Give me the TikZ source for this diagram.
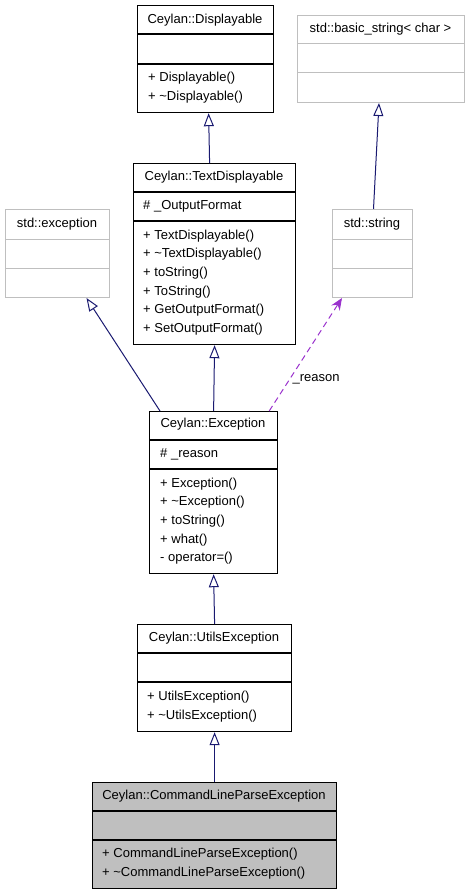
\documentclass[tikz,border=0pt]{standalone}
\usepackage{fontspec}
\setmainfont{Liberation Sans}
\usetikzlibrary{arrows.meta}
\definecolor{edgeblue}{HTML}{191970}
\definecolor{refpurple}{HTML}{9A32CD}
\definecolor{extgrey}{HTML}{BFBFBF}
\begin{document}
\begin{tikzpicture}[x=1pt,y=-1pt,
  box/.style={draw=black,line width=1.2pt,anchor=north west,inner sep=0pt},
  extbox/.style={draw=extgrey,line width=1pt,anchor=north west,inner sep=0pt},
  title/.style={font=\fontsize{13}{15}\selectfont,inner sep=0pt,text height=9.3pt,text depth=0pt},
  member/.style={title,anchor=west},
  inherit/.style={draw=edgeblue,line width=1pt,-{Triangle[open,length=13pt,width=10pt]}},
  uses/.style={draw=refpurple,line width=1pt,dash pattern=on 6pt off 4pt,-{Stealth[length=12pt,width=10pt,inset=4pt]}}]
\useasboundingbox (0,0) rectangle (468,893);
% Ceylan::Displayable
\node[box,minimum width=136pt,minimum height=107pt] (disp) at (137,5) {};
\draw[line width=1.2pt] (137,34) -- (273,34);
\draw[line width=1.2pt] (137,64) -- (273,64);
\node[title] (dispname) at (205,19) {Ceylan::Displayable};
\node[member] (disp1) at (148,77) {+ Displayable()};
\node[member] (disp2) at (148,96) {+ \textasciitilde Displayable()};
% std::basic_string< char >
\node[extbox,minimum width=167pt,minimum height=87pt] (bstr) at (297,15) {};
\draw[extgrey,line width=1pt] (297,44) -- (464,44);
\draw[extgrey,line width=1pt] (297,73) -- (464,73);
\node[title] (bstrname) at (380.5,28) {std::basic\_string< char >};
% Ceylan::TextDisplayable
\node[box,minimum width=162pt,minimum height=181pt] (tdisp) at (133,163) {};
\draw[line width=1.2pt] (133,192) -- (295,192);
\draw[line width=1.2pt] (133,221) -- (295,221);
\node[title] (tdispname) at (214,176) {Ceylan::TextDisplayable};
\node[member] (tdispa) at (143,205) {\# \_OutputFormat};
\node[member] (tdisp1) at (143,235) {+ TextDisplayable()};
\node[member] (tdisp2) at (143,253) {+ \textasciitilde TextDisplayable()};
\node[member] (tdisp3) at (143,272) {+ toString()};
\node[member] (tdisp4) at (143,291) {+ ToString()};
\node[member] (tdisp5) at (143,309) {+ GetOutputFormat()};
\node[member] (tdisp6) at (143,328) {+ SetOutputFormat()};
% std::exception
\node[extbox,minimum width=104pt,minimum height=88pt] (stdexc) at (5,209) {};
\draw[extgrey,line width=1pt] (5,239) -- (109,239);
\draw[extgrey,line width=1pt] (5,268) -- (109,268);
\node[title] (stdexcname) at (57,223) {std::exception};
% std::string
\node[extbox,minimum width=80pt,minimum height=88pt] (str) at (332,209) {};
\draw[extgrey,line width=1pt] (332,239) -- (412,239);
\draw[extgrey,line width=1pt] (332,268) -- (412,268);
\node[title] (strname) at (372,223) {std::string};
% Ceylan::Exception
\node[box,minimum width=128pt,minimum height=162pt] (exc) at (149,411) {};
\draw[line width=1.2pt] (149,440) -- (277,440);
\draw[line width=1.2pt] (149,469) -- (277,469);
\node[title] (excname) at (213,423) {Ceylan::Exception};
\node[member] (exca) at (160,453) {\# \_reason};
\node[member] (exc1) at (160,483) {+ Exception()};
\node[member] (exc2) at (160,501) {+ \textasciitilde Exception()};
\node[member] (exc3) at (160,520) {+ toString()};
\node[member] (exc4) at (160,539) {+ what()};
\node[member] (exc5) at (160,557) {- operator=()};
% Ceylan::UtilsException
\node[box,minimum width=154pt,minimum height=107pt] (utils) at (137,624) {};
\draw[line width=1.2pt] (137,653) -- (291,653);
\draw[line width=1.2pt] (137,682) -- (291,682);
\node[title] (utilsname) at (214,637) {Ceylan::UtilsException};
\node[member] (utils1) at (147,696) {+ UtilsException()};
\node[member] (utils2) at (147,715) {+ \textasciitilde UtilsException()};
% Ceylan::CommandLineParseException
\node[box,fill=extgrey,minimum width=244pt,minimum height=106pt] (clpe) at (92,782) {};
\draw[line width=1.2pt] (92,811) -- (336,811);
\draw[line width=1.2pt] (92,840) -- (336,840);
\node[title] (clpename) at (214,795) {Ceylan::CommandLineParseException};
\node[member] (clpe1) at (102,853) {+ CommandLineParseException()};
\node[member] (clpe2) at (102,872) {+ \textasciitilde CommandLineParseException()};
% connectors
\draw[inherit] ([xshift=-5pt]tdisp.north) -- ([xshift=3pt]disp.south);
\draw[inherit] ([xshift=1pt]str.north) -- ([xshift=-2pt]bstr.south);
\draw[inherit] ([xshift=11pt]exc.north west) -- ([xshift=29pt]stdexc.south);
\draw[inherit] (exc.north) -- (tdisp.south);
\draw[uses] ([xshift=-9pt]exc.north east) -- node[pos=0.3,anchor=west,title,inner sep=1pt] (reason) {\_reason} ([xshift=10pt]str.south west);
\draw[inherit] (utils.north) -- (exc.south);
\draw[inherit] (clpe.north) -- (utils.south);
\end{tikzpicture}
\end{document}
